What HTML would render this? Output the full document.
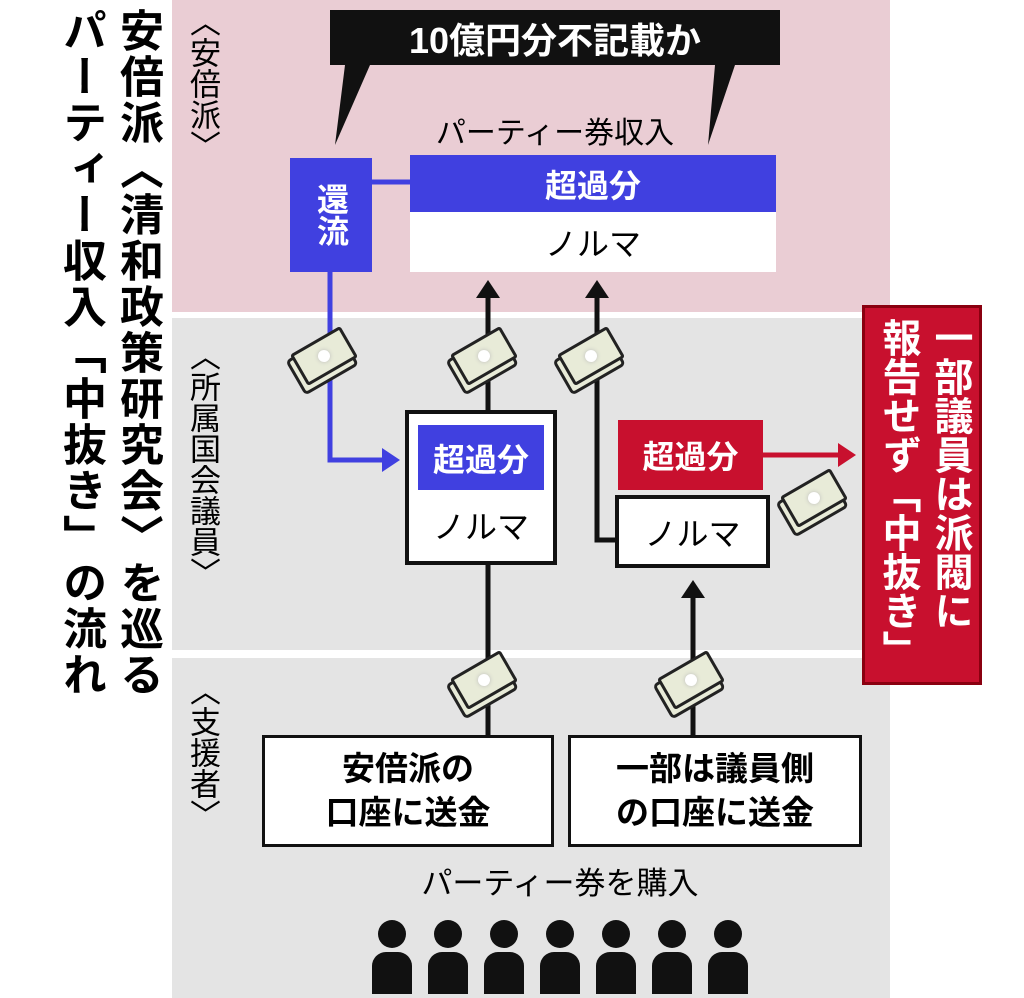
<!DOCTYPE html>
<html><head><meta charset="utf-8"><style>
body{margin:0;width:1024px;height:998px;background:#fff;position:relative;overflow:hidden;font-family:"Liberation Sans","Noto Sans CJK JP",sans-serif}
div{position:absolute;box-sizing:border-box}
.v{writing-mode:vertical-rl;font-weight:bold}
.c{display:flex;align-items:center;justify-content:center;text-align:center}
.bill{width:58px;height:36px;background:#e8ebd8;border:3px solid #222;border-radius:3px;box-shadow:-5px 5px 0 -1px #e8ebd8,-5px 5px 0 2px #222}
.bill::after{content:"";position:absolute;left:20px;top:9px;width:12px;height:12px;border-radius:50%;background:#fff;box-shadow:0 0 4px #bbb}
.p{width:40px;height:72px}
.p::before{content:"";position:absolute;left:6px;top:0;width:28px;height:28px;border-radius:50%;background:#111}
.p::after{content:"";position:absolute;left:0;top:32px;width:40px;height:42px;border-radius:14px 14px 0 0;background:#111}
</style></head><body>
<div class="v" style="left:112px;top:8px;width:50px;height:700px;font-size:44px;line-height:50px;letter-spacing:2px">安倍派〈清和政策研究会〉を巡る</div>
<div class="v" style="left:55px;top:8px;width:50px;height:700px;font-size:44px;line-height:50px;letter-spacing:2px">パーティー収入「中抜き」の流れ</div>

<div style="left:172px;top:0;width:718px;height:312px;background:#eacdd4"></div>
<div style="left:172px;top:318px;width:718px;height:332px;background:#e4e4e4"></div>
<div style="left:172px;top:658px;width:718px;height:340px;background:#e4e4e4"></div>
<div class="v" style="left:180px;top:6px;font-size:31px;font-weight:normal">〈安倍派〉</div>
<div class="v" style="left:180px;top:340px;font-size:31px;font-weight:normal">〈所属国会議員〉</div>
<div class="v" style="left:180px;top:675px;font-size:31px;font-weight:normal">〈支援者〉</div>

<svg style="position:absolute;left:0;top:0" width="1024" height="998">
<polygon points="330,10 780,10 780,65 735,65 708,145 715,65 360,65 370,65 335,145 345,65 330,65" fill="#111"/>
<g stroke="#4040e0" stroke-width="5" fill="none"><line x1="372" y1="182" x2="410" y2="182"/><polyline points="330,272 330,460 385,460"/></g>
<polygon points="382,448 400,460 382,472" fill="#4040e0"/>
<g stroke="#111" stroke-width="5" fill="none"><line x1="488" y1="410" x2="488" y2="295"/><polyline points="615,540 597,540 597,295"/><line x1="488" y1="735" x2="488" y2="565"/><line x1="693" y1="735" x2="693" y2="595"/></g>
<polygon points="476,298 488,280 500,298" fill="#111"/><polygon points="585,298 597,280 609,298" fill="#111"/><polygon points="681,598 693,580 705,598" fill="#111"/>
<line x1="763" y1="455" x2="840" y2="455" stroke="#c8102e" stroke-width="5"/><polygon points="838,443 856,455 838,467" fill="#c8102e"/>
</svg>
<div class="c" style="left:330px;top:10px;width:450px;height:55px;color:#fff;font-size:36px;font-weight:bold">10億円分不記載か</div>
<div class="c" style="left:380px;top:108px;width:350px;height:44px;font-size:30px">パーティー券収入</div>
<div class="c" style="left:410px;top:155px;width:366px;height:57px;background:#4040e0;color:#fff;font-size:32px;font-weight:bold">超過分</div>
<div class="c" style="left:410px;top:212px;width:366px;height:60px;background:#fff;font-size:32px">ノルマ</div>
<div class="c v" style="left:290px;top:158px;width:82px;height:114px;background:#4040e0;color:#fff;font-size:32px;line-height:82px">還流</div>

<div style="left:405px;top:410px;width:152px;height:155px;background:#fff;border:4px solid #111"></div>
<div class="c" style="left:418px;top:425px;width:126px;height:65px;background:#4040e0;color:#fff;font-size:32px;font-weight:bold">超過分</div>
<div class="c" style="left:405px;top:495px;width:152px;height:60px;font-size:32px">ノルマ</div>
<div class="c" style="left:618px;top:420px;width:145px;height:70px;background:#c8102e;color:#fff;font-size:32px;font-weight:bold">超過分</div>
<div class="c" style="left:615px;top:495px;width:155px;height:73px;background:#fff;border:4px solid #111;font-size:32px">ノルマ</div>
<div style="left:862px;top:305px;width:120px;height:380px;background:#c8102e;border:3px solid #8a0010"></div>
<div class="v" style="left:872px;top:318px;width:104px;height:370px;color:#fff;font-size:39px;line-height:52px;white-space:nowrap">一部議員は派閥に<br>報告せず「中抜き」</div>

<div class="c" style="left:262px;top:735px;width:292px;height:112px;background:#fff;border:3px solid #111;font-size:33px;font-weight:bold;line-height:44px">安倍派の<br>口座に送金</div>
<div class="c" style="left:568px;top:735px;width:294px;height:112px;background:#fff;border:3px solid #111;font-size:33px;font-weight:bold;line-height:44px">一部は議員側<br>の口座に送金</div>
<div class="c" style="left:360px;top:858px;width:400px;height:44px;font-size:31px">パーティー券を購入</div>

<div class="bill" style="left:295px;top:338px;transform:rotate(-30deg)"></div>
<div class="bill" style="left:455px;top:338px;transform:rotate(-30deg)"></div>
<div class="bill" style="left:562px;top:338px;transform:rotate(-30deg)"></div>
<div class="bill" style="left:455px;top:662px;transform:rotate(-30deg)"></div>
<div class="bill" style="left:662px;top:662px;transform:rotate(-30deg)"></div>
<div class="bill" style="left:785px;top:480px;transform:rotate(-30deg)"></div>

<div class="p" style="left:372px;top:920px"></div>
<div class="p" style="left:428px;top:920px"></div>
<div class="p" style="left:484px;top:920px"></div>
<div class="p" style="left:540px;top:920px"></div>
<div class="p" style="left:596px;top:920px"></div>
<div class="p" style="left:652px;top:920px"></div>
<div class="p" style="left:708px;top:920px"></div>
</body></html>
